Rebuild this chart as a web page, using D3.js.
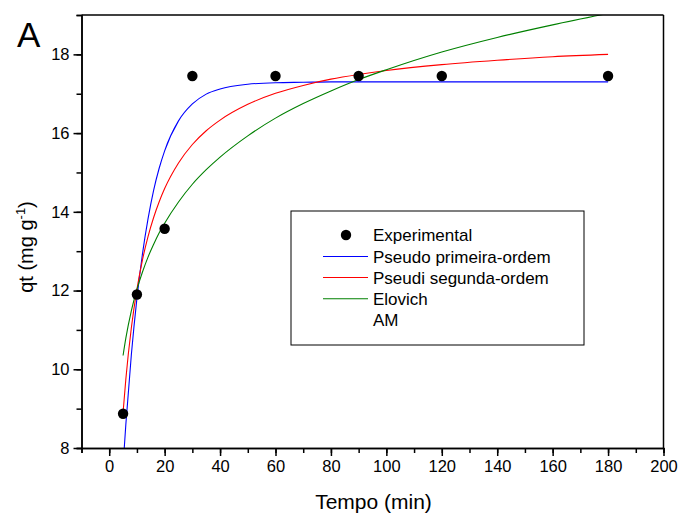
<!DOCTYPE html>
<html>
<head>
<meta charset="utf-8">
<script src="https://cdn.jsdelivr.net/npm/d3@7"></script>
<style>
  html, body { margin: 0; padding: 0; background: #fff; }
  svg { display: block; font-family: "Liberation Sans", Arial, sans-serif; }
</style>
</head>
<body>
<svg id="chart" width="682" height="518"></svg>
<script>
// Experimental data
const expTime = [5, 10, 20, 30, 60, 90, 120, 180];
const expQt   = [8.87, 11.9, 13.57, 17.45, 17.45, 17.45, 17.45, 17.45];

// Model curves
const curveTime = [5, 6, 8, 10, 12, 14, 16, 18, 20, 25, 30, 35, 40, 50, 60, 70, 80, 90, 100, 120, 140, 160, 180];
const pfoQt = [7.55, 8.60, 10.38, 11.80, 12.93, 13.82, 14.54, 15.10, 15.55, 16.31, 16.74, 16.99, 17.12, 17.24, 17.28, 17.29, 17.30, 17.30, 17.30, 17.30, 17.30, 17.30, 17.30];
const psoQt = [8.90, 9.75, 11.06, 12.03, 12.78, 13.37, 13.85, 14.25, 14.59, 15.24, 15.71, 16.06, 16.33, 16.73, 17.01, 17.21, 17.37, 17.49, 17.59, 17.74, 17.85, 17.94, 18.00];
const eloQt = [10.35, 10.79, 11.49, 12.03, 12.47, 12.85, 13.17, 13.46, 13.71, 14.25, 14.70, 15.07, 15.39, 15.93, 16.38, 16.75, 17.07, 17.36, 17.61, 18.06, 18.43, 18.75, 19.04];

const seriesNames = ["Pseudo primeira-ordem", "Pseudi segunda-ordem", "Elovich"];
const seriesColors = ["#0000ff", "#ff0000", "#008000"];
const xTicksMajor = [0, 20, 40, 60, 80, 100, 120, 140, 160, 180, 200];
const yTicksMajor = [8, 10, 12, 14, 16, 18];

const svg = d3.select("#chart");
const L = 81.5, R = 663.5, T = 15, B = 448;

const x = d3.scaleLinear().domain([-10, 200]).range([L, R]);
const y = d3.scaleLinear().domain([8, 19]).range([B, T]);

svg.append("defs").append("clipPath").attr("id", "clip")
  .append("rect").attr("x", L).attr("y", T).attr("width", R - L).attr("height", B - T);

// Curves
const seriesData = [pfoQt, psoQt, eloQt];
const line = d3.line().x(d => x(d[0])).y(d => y(d[1])).curve(d3.curveMonotoneX);
const g = svg.append("g").attr("clip-path", "url(#clip)");
seriesData.forEach((vals, i) => {
  g.append("path")
    .datum(curveTime.map((t, j) => [t, vals[j]]))
    .attr("d", line)
    .attr("fill", "none")
    .attr("stroke", seriesColors[i])
    .attr("stroke-width", 1.1);
});

// Points
svg.append("g").selectAll("circle")
  .data(expTime.map((t, i) => [t, expQt[i]]))
  .join("circle")
  .attr("cx", d => x(d[0]))
  .attr("cy", d => y(d[1]))
  .attr("r", 5.2)
  .attr("fill", "#000");

// Frame top/right
svg.append("line").attr("x1", L).attr("x2", R).attr("y1", T).attr("y2", T).attr("stroke", "#000").attr("stroke-width", 1.5);
svg.append("line").attr("x1", R).attr("x2", R).attr("y1", T).attr("y2", B).attr("stroke", "#000").attr("stroke-width", 1.5);

const FONT = "Liberation Sans, Arial, sans-serif";

// X axis
const xAxisMinor = d3.axisBottom(x).tickValues(d3.range(-10, 201, 10)).tickSize(5).tickFormat("");
const xAxisMajor = d3.axisBottom(x).tickValues(xTicksMajor).tickSize(8).tickPadding(4).tickSizeOuter(0);
const gxMin = svg.append("g").attr("transform", `translate(0,${B})`).call(xAxisMinor);
const gx = svg.append("g").attr("transform", `translate(0,${B})`).call(xAxisMajor);
[gxMin, gx].forEach(a => {
  a.select(".domain").attr("stroke", "#000").attr("stroke-width", 1.5);
  a.selectAll(".tick line").attr("stroke", "#000").attr("stroke-width", 1.5);
});
gx.selectAll("text").attr("font-size", 16.5).attr("fill", "#000").attr("font-family", FONT);

// Y axis
const yAxisMinor = d3.axisLeft(y).tickValues(d3.range(8, 19.01, 1)).tickSize(5).tickFormat("");
const yAxisMajor = d3.axisLeft(y).tickValues(yTicksMajor).tickSize(8).tickPadding(4).tickSizeOuter(0);
const gyMin = svg.append("g").attr("transform", `translate(${L},0)`).call(yAxisMinor);
const gy = svg.append("g").attr("transform", `translate(${L},0)`).call(yAxisMajor);
[gyMin, gy].forEach(a => {
  a.select(".domain").attr("stroke", "#000").attr("stroke-width", 1.5);
  a.selectAll(".tick line").attr("stroke", "#000").attr("stroke-width", 1.5);
});
gy.selectAll("text").attr("font-size", 16.5).attr("fill", "#000").attr("font-family", FONT);

// Axis titles
svg.append("text").attr("x", (L + R) / 2 + 1).attr("y", 509).attr("text-anchor", "middle")
  .attr("font-size", 21).attr("fill", "#000").text("Tempo (min)");

const yt = svg.append("text").attr("transform", "translate(33,247) rotate(-90)")
  .attr("text-anchor", "middle").attr("font-size", 20).attr("fill", "#000");
yt.append("tspan").text("qt (mg g");
yt.append("tspan").attr("dy", -8).attr("font-size", 13).text("-1");
yt.append("tspan").attr("dy", 8).text(")");

// Panel label
svg.append("text").attr("x", 17).attr("y", 47).attr("font-size", 35).attr("fill", "#000").text("A");

// Legend
svg.append("rect").attr("x", 291).attr("y", 211).attr("width", 293).attr("height", 134)
  .attr("fill", "#fff").attr("stroke", "#000").attr("stroke-width", 1);
const legX = 373, legFS = 17, rowY = [235, 256.5, 277.5, 298.7, 320];
svg.append("circle").attr("cx", 346).attr("cy", rowY[0]).attr("r", 5.2).attr("fill", "#000");
svg.append("text").attr("x", legX).attr("y", rowY[0] + 6).attr("font-size", legFS).attr("fill", "#000").text("Experimental");
seriesNames.forEach((n, i) => {
  svg.append("line").attr("x1", 323).attr("x2", 368).attr("y1", rowY[i + 1]).attr("y2", rowY[i + 1])
    .attr("stroke", seriesColors[i]).attr("stroke-width", 1.1);
  svg.append("text").attr("x", legX).attr("y", rowY[i + 1] + 6).attr("font-size", legFS).attr("fill", "#000").text(n);
});
svg.append("text").attr("x", legX).attr("y", rowY[4] + 6).attr("font-size", legFS).attr("fill", "#000").text("AM");
</script>
</body>
</html>
